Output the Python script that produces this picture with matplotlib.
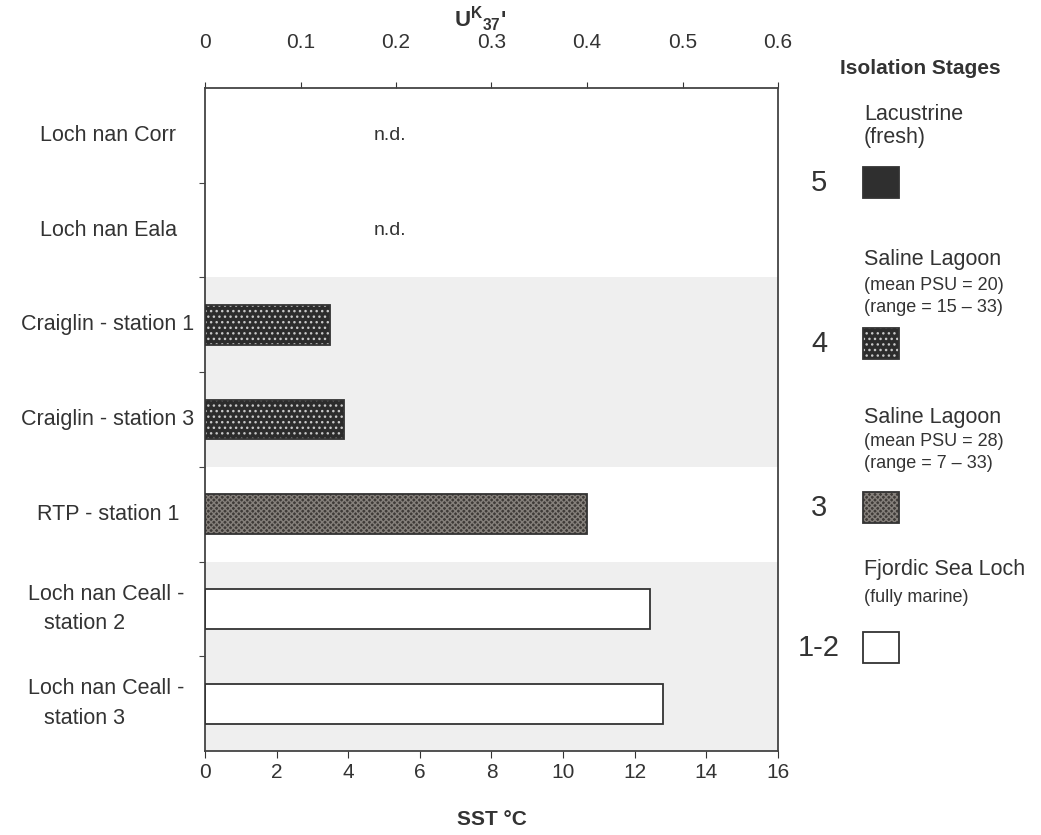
import numpy as np
import matplotlib
matplotlib.use('Agg')
import matplotlib.pyplot as plt
from matplotlib.patches import Rectangle
from matplotlib import transforms

plt.rcParams['font.family'] = ['Liberation Sans', 'DejaVu Sans']
plt.rcParams['mathtext.fontset'] = 'custom'
plt.rcParams['mathtext.rm'] = 'Liberation Sans'
plt.rcParams['mathtext.bf'] = 'Liberation Sans:bold'
plt.rcParams['hatch.linewidth'] = 1.0

# data
sites = ['Loch nan Corr', 'Loch nan Eala', 'Craiglin - station 1', 'Craiglin - station 3',
         'RTP - station 1', 'Loch nan Ceall -\nstation 2', 'Loch nan Ceall -\nstation 3']
sst = [np.nan, np.nan, 3.50, 3.88, 10.68, 12.42, 12.80]
stage = ['5', '5', '4', '4', '3', '1-2', '1-2']
shaded_rows = [2, 3, 5, 6]
u37_ticks = [0, 0.1, 0.2, 0.3, 0.4, 0.5, 0.6]

stage_names = ['5', '4', '3', '1-2']
stage_titles = [['Lacustrine', '(fresh)'], ['Saline Lagoon'], ['Saline Lagoon'], ['Fjordic Sea Loch']]
stage_notes = [[], ['(mean PSU = 20)', '(range = 15 \u2013 33)'],
               ['(mean PSU = 28)', '(range = 7 \u2013 33)'], ['(fully marine)']]

# styles for each stage
styles = {
    '5': dict(fc='#2f2f2f', hatch=None, hc=None),
    '4': dict(fc='#2c2c2c', hatch='...', hc='#c8c8c8'),
    '3': dict(fc='#3f3b38', hatch='xxxxxx', hc='#85807b'),
    '1-2': dict(fc='white', hatch=None, hc=None),
}

W, H = 1041, 835
fig = plt.figure(figsize=(W / 100, H / 100), dpi=100)
ax = fig.add_axes([205 / W, 1 - 751 / H, 573 / W, 663 / H])

y = np.arange(len(sites))
ax.set_xlim(0, 16)
ax.set_ylim(len(sites) - 0.5, -0.5)

for r in shaded_rows:
    ax.axhspan(r - 0.5, r + 0.5, color='#efefef', lw=0, zorder=0)

bh = 0.42
for i in range(len(sites)):
    if np.isnan(sst[i]):
        ax.text(4.7, y[i], 'n.d.', ha='left', va='center', fontsize=14, color='#333333')
        continue
    st = styles[stage[i]]
    if st['hatch']:
        ax.barh(y[i], sst[i], height=bh, color=st['fc'], edgecolor=st['hc'], hatch=st['hatch'],
                lw=0, zorder=2)
    else:
        ax.barh(y[i], sst[i], height=bh, color=st['fc'], lw=0, zorder=2)
    ax.barh(y[i], sst[i], height=bh, fill=False, edgecolor='#333333', lw=1.3, zorder=3)

for s in ax.spines.values():
    s.set_color('#444444')
    s.set_linewidth(1.3)

ax.set_xticks(np.arange(0, 17, 2))
ax.tick_params(axis='x', labelsize=15, colors='#333333', length=5, pad=4)
ax.set_yticks(np.arange(0.5, len(sites) - 1, 1.0))
ax.set_yticklabels([])
ax.tick_params(axis='y', length=4, colors='#444444')
ax.set_xlabel('SST \u00b0C', fontsize=15, fontweight='bold', color='#333333', labelpad=20)

# category labels
tr = transforms.blended_transform_factory(fig.transFigure, ax.transData)
for i, s in enumerate(sites):
    lines = s.split('\n')
    if len(lines) == 1:
        ax.text(108 / W, y[i], s, transform=tr, ha='center', va='center', fontsize=15.5,
                color='#333333')
    else:
        ax.text(106 / W, y[i] - 0.155, lines[0], transform=tr, ha='center', va='center',
                fontsize=15.5, color='#333333')
        ax.text(44 / W, y[i] + 0.155, lines[1], transform=tr, ha='left', va='center',
                fontsize=15.5, color='#333333')

# top U37 axis
top = ax.secondary_xaxis('top', functions=(lambda x: x * 0.6 / 16, lambda u: u * 16 / 0.6))
top.set_xticks(u37_ticks)
top.set_xticklabels(['0' if v == 0 else '%g' % v for v in u37_ticks])
top.tick_params(labelsize=15, colors='#333333', length=4, pad=22)
top.spines['top'].set_visible(False)
fig.text(480 / W, 1 - 19 / H, r"$\mathbf{U^{K}{}_{37}}$'", ha='center', va='center', fontsize=16,
         fontweight='bold', color='#333333')

# legend on the right
fig.text(920 / W, 1 - 68 / H, 'Isolation Stages', ha='center', va='center', fontsize=15,
         fontweight='bold', color='#333333')
title_y = [115, 260, 418, 570]
note_y = [0, 285, 442, 598]
box_top = [167, 328, 492, 632]
tx = 864 / W
for k, name in enumerate(stage_names):
    for j, t in enumerate(stage_titles[k]):
        fig.text(tx, 1 - (title_y[k] + 23 * j) / H, t, ha='left', va='center', fontsize=15.5,
                 color='#333333')
    for j, t in enumerate(stage_notes[k]):
        fig.text(tx, 1 - (note_y[k] + 22 * j) / H, t, ha='left', va='center', fontsize=13,
                 color='#333333')
    fig.text(819 / W, 1 - (box_top[k] + 16) / H, name, ha='center', va='center', fontsize=21,
             color='#333333')
    st = styles[name]
    x0, y0, bw, bhh = 863 / W, 1 - (box_top[k] + 31) / H, 36 / W, 31 / H
    if st['hatch']:
        fig.add_artist(Rectangle((x0, y0), bw, bhh, transform=fig.transFigure,
                                 facecolor=st['fc'], edgecolor=st['hc'], hatch=st['hatch'], lw=0))
    else:
        fig.add_artist(Rectangle((x0, y0), bw, bhh, transform=fig.transFigure,
                                 facecolor=st['fc'], lw=0))
    fig.add_artist(Rectangle((x0, y0), bw, bhh, transform=fig.transFigure,
                             fill=False, edgecolor='#333333', lw=1.3))

fig.savefig('out.png', dpi=100)
